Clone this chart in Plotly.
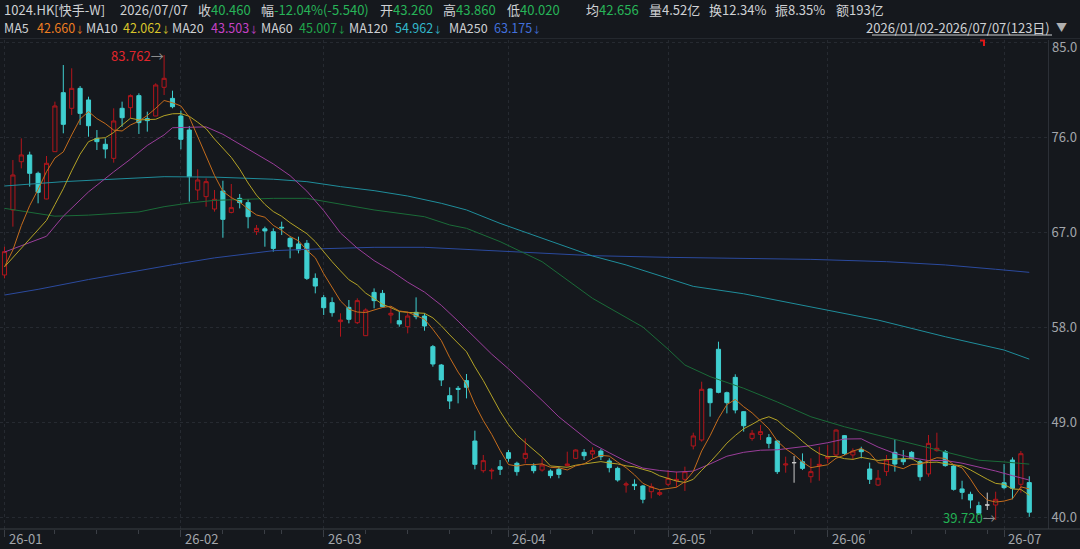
import plotly.graph_objects as go

BG = '#15181d'

# ---------------- data ----------------
opens = [62.93, 69.09, 73.66, 74.30, 72.56, 70.13, 74.61, 80.20, 78.72, 80.61,
         79.51, 75.87, 75.31, 73.98, 78.72, 78.78, 79.92, 77.74, 77.99, 80.71,
         79.66, 77.99, 76.66, 70.98, 70.35, 69.18, 70.89, 68.86, 70.19, 69.78,
         67.03, 67.30, 67.03, 67.45, 66.40, 65.87, 65.93, 62.61, 60.78, 60.31,
         58.51, 59.86, 58.41, 57.18, 61.28, 61.19, 59.14, 58.60, 58.03, 59.39,
         59.04, 56.14, 54.40, 51.50, 52.19, 52.92, 47.20, 44.39, 44.36, 44.77,
         46.10, 45.09, 45.56, 44.83, 44.45, 44.36, 44.52, 44.87, 45.56, 46.13,
         45.97, 46.25, 45.31, 44.61, 43.03, 43.10, 42.94, 42.40, 42.15, 43.10,
         43.44, 43.57, 46.73, 47.30, 52.13, 55.89, 51.78, 53.23, 49.98, 47.45,
         47.83, 47.52, 47.20, 44.93, 45.15, 45.24, 43.82, 44.87, 45.56, 45.88,
         47.71, 45.88, 46.41, 44.55, 43.03, 44.30, 46.13, 45.47, 46.13, 45.24,
         44.08, 46.29, 46.19, 44.83, 42.66, 42.15, 41.08, 41.14, 41.14, 43.25,
         45.40, 43.10, 43.26]
highs = [65.61, 73.82, 75.87, 74.61, 72.72, 74.20, 79.35, 82.82, 82.51, 80.83,
         79.82, 76.66, 75.87, 78.72, 79.35, 80.04, 80.14, 78.40, 81.09, 83.762,
         80.39, 78.50, 77.04, 72.94, 72.09, 70.98, 71.86, 71.55, 70.60, 70.10,
         67.67, 67.51, 67.35, 67.98, 66.56, 66.56, 66.24, 63.08, 61.03, 60.81,
         59.30, 60.56, 60.72, 59.77, 61.66, 61.51, 59.93, 59.45, 59.45, 60.81,
         59.30, 56.30, 54.50, 52.29, 52.41, 53.55, 48.18, 45.88, 44.61, 45.40,
         46.35, 45.24, 47.45, 45.09, 45.56, 44.52, 44.77, 46.19, 46.41, 46.44,
         46.60, 46.44, 45.56, 44.77, 43.35, 43.57, 43.03, 43.19, 42.56, 44.45,
         44.30, 44.77, 47.99, 52.82, 52.19, 56.61, 51.88, 53.52, 50.04, 48.24,
         48.72, 47.86, 47.30, 45.72, 45.78, 46.03, 45.56, 46.66, 46.82, 48.31,
         47.77, 46.51, 46.66, 45.15, 44.45, 45.88, 47.36, 46.35, 46.25, 45.40,
         47.77, 47.99, 46.35, 44.93, 43.44, 42.40, 41.45, 42.31, 42.40, 45.02,
         45.65, 46.25, 43.86]
lows = [62.61, 67.51, 73.03, 71.30, 69.72, 70.10, 74.61, 76.35, 78.09, 77.14,
        76.03, 74.77, 73.98, 73.57, 76.98, 77.77, 76.29, 76.51, 77.99, 79.98,
        78.72, 74.83, 69.88, 70.03, 69.40, 68.93, 66.46, 68.77, 69.24, 67.35,
        66.72, 65.61, 65.14, 66.72, 64.51, 64.98, 62.46, 61.19, 59.14, 58.98,
        57.09, 58.35, 58.28, 57.15, 59.77, 59.86, 58.35, 58.03, 57.40, 58.73,
        57.65, 54.24, 52.41, 50.23, 50.77, 51.24, 44.52, 44.20, 43.57, 43.98,
        45.24, 43.92, 45.09, 44.14, 44.30, 43.67, 43.67, 44.77, 45.50, 45.40,
        45.56, 45.40, 44.23, 43.35, 42.31, 42.56, 41.30, 41.77, 41.99, 42.94,
        42.81, 42.47, 46.41, 47.14, 49.51, 51.72, 49.82, 49.82, 48.09, 47.23,
        47.30, 46.51, 44.08, 44.20, 43.25, 44.45, 43.25, 43.44, 45.09, 45.78,
        45.88, 45.40, 45.56, 43.13, 42.94, 43.89, 44.30, 44.93, 45.47, 43.44,
        43.82, 46.19, 44.77, 42.50, 41.68, 40.82, 40.19, 40.67, 39.72, 42.62,
        41.68, 42.31, 40.02]
closes = [65.14, 72.40, 74.30, 72.56, 70.76, 73.51, 78.94, 77.20, 80.61, 78.24,
          77.07, 75.56, 74.86, 77.52, 77.83, 79.92, 77.36, 77.55, 80.93, 81.56,
          78.87, 75.78, 72.24, 71.93, 71.77, 70.10, 68.20, 69.31, 69.78, 68.45,
          67.35, 67.10, 65.45, 67.40, 65.61, 65.30, 62.61, 61.88, 59.83, 59.36,
          58.66, 58.73, 60.50, 59.61, 60.50, 59.93, 59.30, 58.28, 59.04, 58.98,
          58.10, 54.50, 52.98, 50.99, 52.10, 52.29, 44.99, 45.34, 44.42, 44.52,
          45.56, 44.30, 46.03, 44.39, 44.93, 43.92, 44.04, 45.02, 46.35, 45.81,
          46.29, 45.72, 44.68, 43.51, 43.13, 42.97, 41.68, 42.88, 42.31, 43.67,
          43.57, 44.30, 47.68, 52.10, 50.83, 51.81, 50.83, 50.14, 48.65, 47.93,
          48.09, 46.98, 44.30, 45.02, 45.15, 44.61, 44.30, 44.99, 45.72, 48.24,
          46.03, 46.25, 46.19, 43.57, 43.67, 45.40, 45.02, 45.24, 45.56, 43.82,
          46.98, 46.51, 44.87, 42.62, 42.34, 41.61, 40.35, 41.14, 41.68, 42.78,
          42.72, 46.00, 40.46]
days = list(range(len(closes)))

ma5 = [63.7, 65.3, 67.6, 69.5, 71.03, 72.71, 74.01, 74.59, 76.20, 77.70,
       78.41, 77.74, 77.27, 76.65, 76.57, 77.14, 77.50, 78.04, 78.72, 79.46,
       79.25, 78.94, 77.88, 76.08, 74.12, 72.36, 70.85, 70.26, 69.83, 69.17,
       68.62, 68.40, 67.63, 67.15, 66.58, 66.17, 65.27, 64.56, 63.05, 61.80,
       60.47, 59.69, 59.42, 59.37, 59.60, 59.85, 59.97, 59.52, 59.41, 59.11,
       58.74, 57.78, 56.72, 55.11, 53.73, 52.57, 50.67, 49.14, 47.83, 46.31,
       44.97, 44.83, 44.97, 44.96, 45.04, 44.71, 44.66, 44.46, 44.85, 45.03,
       45.50, 45.84, 45.77, 45.20, 44.67, 44.00, 43.19, 42.83, 42.59, 42.70,
       42.82, 43.35, 44.31, 46.26, 47.70, 49.34, 50.65, 51.14, 50.45, 49.87,
       49.13, 48.36, 47.19, 46.46, 45.91, 45.21, 44.68, 44.81, 44.95, 45.57,
       45.86, 46.25, 46.49, 46.06, 45.14, 45.02, 44.77, 44.58, 44.98, 45.01,
       45.32, 45.62, 45.55, 44.96, 44.66, 43.59, 42.36, 41.61, 41.42, 41.51,
       41.73, 42.86, 42.66]
ma10 = [63.7, 64.6, 65.5, 66.3, 67.2, 68.1, 69.6, 71.1, 72.8, 74.37,
        75.56, 75.88, 75.93, 76.43, 77.13, 77.78, 77.62, 77.65, 77.68, 78.02,
        78.20, 78.22, 77.96, 77.40, 76.79, 75.81, 74.89, 74.07, 72.95, 71.64,
        70.49, 69.62, 68.94, 68.49, 67.88, 67.40, 66.84, 66.09, 65.10, 64.19,
        63.32, 62.48, 61.99, 61.21, 60.70, 60.16, 59.83, 59.47, 59.39, 59.35,
        59.30, 58.87, 58.12, 57.26, 56.42, 55.66, 54.23, 52.93, 51.47, 50.02,
        48.77, 47.75, 47.05, 46.39, 45.68, 44.84, 44.75, 44.71, 44.91, 45.04,
        45.11, 45.25, 45.12, 45.03, 44.85, 44.75, 44.52, 44.30, 43.90, 43.68,
        43.41, 43.27, 43.57, 44.43, 45.20, 46.08, 47.00, 47.72, 48.36, 48.78,
        49.24, 49.50, 49.17, 48.46, 47.89, 47.17, 46.52, 46.00, 45.71, 45.74,
        45.53, 45.46, 45.65, 45.51, 45.36, 45.44, 45.51, 45.53, 45.52, 45.08,
        45.17, 45.20, 45.06, 44.97, 44.84, 44.46, 43.99, 43.58, 43.19, 43.09,
        42.66, 42.61, 42.06]
ma20_days = [0, 3, 5, 7, 10, 13, 15, 17, 19, 20, 22, 24, 26, 28, 30, 32, 34, 36, 38, 40,
             42, 44, 46, 48, 50, 52, 54, 56, 58, 60, 62, 64, 66, 68, 70, 72, 74, 76, 78, 80,
             82, 84, 86, 88, 90, 92, 94, 96, 98, 100, 102, 104, 106, 108, 110, 112, 114,
             116, 118, 120, 122]
ma20 = [65.1, 66.0, 66.6, 68.5, 70.8, 72.7, 73.9, 75.2, 76.20, 76.88, 76.95, 76.96, 76.26,
        75.32, 74.35, 73.45, 72.34, 70.87, 69.03, 66.91, 65.47, 64.29, 63.34, 62.25, 61.31,
        60.06, 58.56, 57.03, 55.43, 54.04, 52.59, 51.05, 49.49, 48.19, 46.94, 46.09, 45.27,
        44.64, 44.41, 44.26, 44.35, 45.03, 45.76, 46.13, 46.33, 46.37, 46.55, 46.76, 47.04,
        47.39, 47.41, 46.63, 46.02, 45.62, 45.35, 45.36, 45.10, 44.75, 44.36, 43.92, 43.50]
ma60_days = [0, 3, 6, 10, 16, 19, 22, 25, 32, 36, 38, 40, 44, 50, 53, 55, 59, 64, 68, 70,
             76, 79, 81, 84, 88, 92, 96, 100, 104, 108, 112, 116, 119, 122]
ma60 = [69.24, 68.9, 68.5, 68.6, 68.9, 69.4, 69.75, 70.0, 70.19, 70.19, 69.9, 69.66, 69.09,
        68.45, 67.67, 67.35, 66.09, 64.19, 61.9, 60.72, 58.0, 55.9, 54.4, 53.3, 52.2, 50.9,
        49.5, 48.55, 47.75, 46.95, 46.15, 45.38, 45.22, 45.01]
ma120_days = [0, 3, 7, 11, 15, 19, 25, 32, 36, 40, 44, 48, 52, 55, 59, 64, 68, 70, 74, 79,
              82, 88, 96, 104, 112, 119, 122]
ma120 = [71.36, 71.55, 71.77, 71.93, 72.09, 72.24, 72.2, 72.0, 71.77, 71.30, 70.92, 70.41,
         69.72, 69.09, 67.82, 66.40, 65.30, 64.73, 63.88, 62.61, 61.85, 61.15, 59.93, 58.66,
         57.08, 55.82, 54.96]
ma250_days = [0, 4, 10, 16, 20, 25, 32, 38, 44, 50, 55, 64, 70, 79, 88, 96, 105, 112, 118, 122]
ma250 = [61.03, 61.57, 62.5, 63.35, 63.9, 64.55, 65.23, 65.42, 65.55, 65.55, 65.36, 64.98,
         64.76, 64.60, 64.51, 64.41, 64.19, 63.88, 63.47, 63.18]

month_days = [0, 21, 38, 60, 79, 98, 119]
month_labels = ['26-01', '26-02', '26-03', '26-04', '26-05', '26-06', '26-07']
week_days = [6, 11, 16, 26, 31, 33, 43, 48, 53, 58, 62, 65, 70, 75, 84, 89, 94,
             103, 108, 112, 117, 122]
price_ticks = [40, 49, 58, 67, 76, 85]

# ---------------- figure ----------------
fig = go.Figure()

flat = [i for i in days if opens[i] == closes[i]]
norm = [i for i in days if opens[i] != closes[i]]

fig.add_trace(go.Candlestick(
    x=[days[i] for i in norm], open=[opens[i] for i in norm], high=[highs[i] for i in norm],
    low=[lows[i] for i in norm], close=[closes[i] for i in norm],
    increasing=dict(line=dict(color='#b3161c', width=1), fillcolor=BG),
    decreasing=dict(line=dict(color='#3fcfd0', width=1), fillcolor='#3fcfd0'),
    whiskerwidth=0, showlegend=False, hoverinfo='skip'))
fig.add_trace(go.Candlestick(
    x=[days[i] for i in flat], open=[opens[i] for i in flat], high=[highs[i] for i in flat],
    low=[lows[i] for i in flat], close=[closes[i] for i in flat],
    increasing=dict(line=dict(color='#c9c9c9', width=1), fillcolor='#c9c9c9'),
    decreasing=dict(line=dict(color='#c9c9c9', width=1), fillcolor='#c9c9c9'),
    whiskerwidth=0, showlegend=False, hoverinfo='skip'))

lines = [
    (ma250_days, ma250, '#2b4a9e'),
    (ma120_days, ma120, '#1f8d9b'),
    (ma60_days, ma60, '#1a6b38'),
    (ma20_days, ma20, '#9a3d9a'),
    (days, ma10, '#b3a226'),
    (days, ma5, '#c46c1c'),
]
for xs, ys, col in lines:
    fig.add_trace(go.Scatter(x=xs, y=ys, mode='lines', line=dict(color=col, width=1),
                             showlegend=False, hoverinfo='skip'))

FONT = 'Noto Sans CJK SC, Noto Sans, sans-serif'
PW = 1048.0
PH = 489.0


def py(y):
    return 1 + (40 - y) / PH


def txt(x, y, t, color, size=13, anchor='left', xref='paper'):
    return dict(x=x, y=y, xref=xref, yref='paper', text=t, showarrow=False,
                xanchor=anchor, yanchor='middle', font=dict(family=FONT, size=size, color=color))


GREEN = '#27b458'
LBL = '#cfd1d4'
ann = []
row1 = [
    (2, '1024.HK[快手-W]', None, None),
    (118, '2026/07/07', None, None),
    (196, '收', '40.460', GREEN),
    (259, '幅', '-12.04%(-5.540)', GREEN),
    (378, '开', '43.260', GREEN),
    (441, '高', '43.860', GREEN),
    (505, '低', '40.020', GREEN),
    (584, '均', '42.656', GREEN),
    (647, '量4.52亿', None, None),
    (707, '换12.34%', None, None),
    (773, '振8.35%', None, None),
    (834, '额193亿', None, None),
]
for x, a, b, c in row1:
    t = a if b is None else a + '<span style="color:%s">%s</span>' % (c, b)
    ann.append(txt(x / PW, py(10), t, LBL))

# MA legend row: (label x, label, value x, value, colour)
row2 = [
    (2, 'MA5', 35, '42.660', '#ee7e22'),
    (84, 'MA10', 121, '42.062', '#d9c52b'),
    (170, 'MA20', 209, '43.503', '#c542c5'),
    (259, 'MA60', 297, '45.007', '#20a64b'),
    (347, 'MA120', 393, '54.962', '#33b9cc'),
    (447, 'MA250', 492, '63.175', '#4270dc'),
]
for lx, lab, vx, val, c in row2:
    ann.append(txt(lx / PW, py(27), lab, LBL, size=12.5))
    ann.append(txt(vx / PW, py(27), val + '<span style="font-size:9px">↓</span>', c, size=12.5))

ann.append(txt(1052 / PW, py(27), '2026/01/02-2026/07/07(123日)', LBL, anchor='right'))
ann.append(txt(1054 / PW, py(27), '▼', '#b0b0b0', size=11))

# month labels
for d, lab in zip(month_days, month_labels):
    a = txt(d, -(538 - 529) / PH, lab, '#a3a6ab', xref='x')
    a['xshift'] = 2
    ann.append(a)

# top price label
ann.append(dict(x=1.0, y=85, xref='paper', yref='y', text='85.0', showarrow=False,
                xanchor='left', yanchor='middle', xshift=2, yshift=-4,
                font=dict(family=FONT, size=13, color='#a3a6ab')))

# high / low markers
hi_i = max(days, key=lambda i: highs[i])
lo_i = min(days, key=lambda i: lows[i])
ann.append(dict(x=hi_i, y=highs[hi_i], xref='x', yref='y',
                text='%.3f<span style="color:#8c8c8c">→</span>' % highs[hi_i], showarrow=False,
                xanchor='right', yanchor='middle', xshift=2,
                font=dict(family=FONT, size=13, color='#e0262c')))
ann.append(dict(x=lo_i, y=lows[lo_i], xref='x', yref='y',
                text='%.3f<span style="color:#8c8c8c">→</span>' % lows[lo_i], showarrow=False,
                xanchor='right', yanchor='middle', xshift=2, yshift=2,
                font=dict(family=FONT, size=13, color='#22b254')))

shapes = [
    dict(type='line', xref='paper', yref='paper', x0=0, x1=1080 / PW, y0=0, y1=0,
         line=dict(color='#3a3e45', width=1)),
    dict(type='line', xref='paper', yref='paper', x0=0, x1=1080 / PW, y0=py(38.5), y1=py(38.5),
         line=dict(color='#24282e', width=1)),
    dict(type='line', xref='paper', yref='paper', x0=872 / PW, x1=1052 / PW, y0=py(35), y1=py(35),
         line=dict(color='#cfd1d4', width=1)),
    dict(type='line', xref='paper', yref='paper', x0=980 / PW, x1=985 / PW, y0=py(40.5), y1=py(40.5),
         line=dict(color='#e01818', width=2)),
    dict(type='line', xref='paper', yref='paper', x0=984 / PW, x1=984 / PW, y0=py(40), y1=py(46),
         line=dict(color='#e01818', width=2)),
]

fig.update_layout(
    width=1080, height=549,
    margin=dict(l=0, r=32, t=40, b=20),
    paper_bgcolor=BG, plot_bgcolor=BG,
    annotations=ann, shapes=shapes,
    xaxis=dict(range=[-0.536, 124.23], tickvals=month_days, ticktext=[''] * len(month_days),
               showgrid=True, gridcolor='#262a31', griddash='3px,3px', gridwidth=1,
               ticks='outside', ticklen=7, tickcolor='#3a3e45', zeroline=False,
               showline=False, rangeslider=dict(visible=False), fixedrange=True,
               minor=dict(tickvals=week_days, ticks='outside', ticklen=4, tickcolor='#3a3e45',
                          showgrid=False)),
    yaxis=dict(range=[38.866, 85.19], side='right', tickvals=price_ticks,
               ticktext=['%.1f' % v if v != 85 else '' for v in price_ticks],
               showgrid=True, gridcolor='#262a31', griddash='3px,3px', gridwidth=1,
               ticks='', zeroline=False, showline=True, linecolor='#2c3037', mirror=True,
               tickfont=dict(family=FONT, size=13, color='#a3a6ab'), fixedrange=True),
    font=dict(family=FONT),
)

fig.write_html('out.html')
